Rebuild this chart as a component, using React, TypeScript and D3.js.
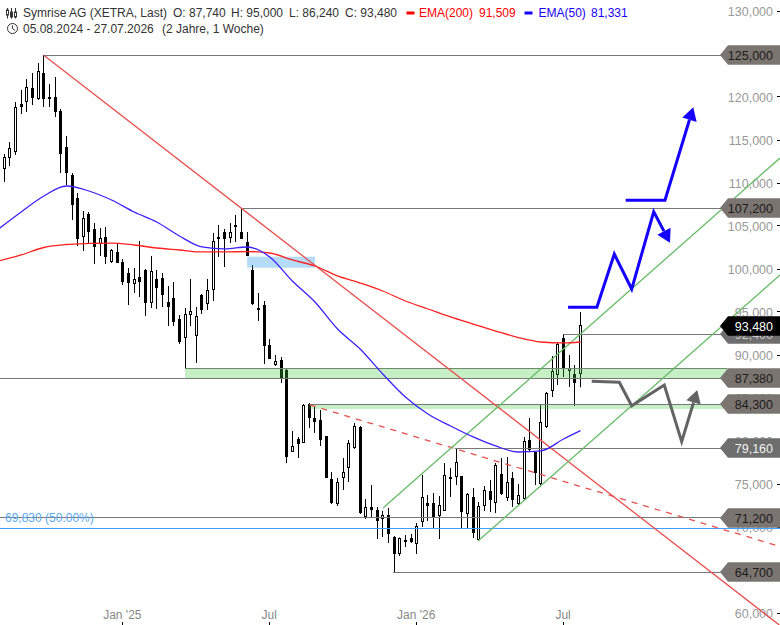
import React from "react";
import * as d3 from "d3";

const W = 780;
const H = 625;

// Weekly candles, 05.08.2024 - 27.07.2026 (thousands of EUR)
const opens = [111.28,111.63,112.91,113.60,119.19,119.42,121.05,119.77,122.79,120,120,118.37,114.19,110.93,108.26,103.72,106.40,104.65,102.91,103.72,100.81,101.98,100.81,99.53,98.26,99.07,99.88,96.05,98.84,98.95,96.16,96.63,94.19,91.98,94.65,92.21,96.98,95.93,97.56,103.72,104.30,103.60,105.12,104.30,103.14,99.88,95.47,95.81,91.16,88.84,89.42,88.26,78.72,80.23,79.77,84.30,82.67,82.44,80.58,75.58,72.67,75.70,76.86,79.19,81.63,71.16,72.33,71.98,70.93,71.40,68.84,66.86,68.49,68.72,68.02,70.58,72.79,72.79,71.28,71.86,75.81,75.81,75.93,71.51,73.49,68.49,72.44,74.19,72.79,76.16,73.37,75.70,72.67,73.26,80.12,78.72,75,81.63,85.81,87.67,91.98,88.14,87.79,87.74];
const highs = [111.74,113.37,114.77,119.42,120.81,122.09,122.79,123.95,124.88,121.51,122.33,118.60,115.47,111.16,108.84,106.74,106.63,105.35,104.77,104.88,102.33,102.91,101.16,100.12,100.12,103.26,100,101.51,99.88,99.53,98.02,98.49,94.65,95.47,98.84,95.58,97.09,98.84,104.19,105.12,104.65,105.35,106.28,107.09,104.30,100.47,97.21,96.28,91.86,90,89.77,88.37,81.16,80.47,84.30,84.42,83.95,83.60,80.58,76.40,75.70,78.02,80.12,82.09,81.74,73.26,74.88,72.33,71.86,72.21,68.95,68.78,69.07,69.19,70.47,76.05,73.72,73.95,73.60,77.44,76.86,79.19,75.93,73.95,74.53,72.91,74.77,75.47,77.44,78.02,78.14,76.40,75,80.47,82.67,78.72,84.19,85.70,89.88,91.40,92.44,90,88.84,95];
const lows = [110.12,110.12,111.98,113.26,118.02,118.26,119.07,119.65,118.84,118.84,117.67,111.16,109.77,105.70,102.67,102.09,103.02,100.58,101.51,100.58,100.70,100.70,98.14,95.81,97.21,96.74,94.53,95.47,95.35,95.58,93.37,93.37,91.28,88.49,93.37,89.07,94.77,95.23,96.28,101.40,100.23,103.02,103.14,103.49,101.51,95.81,93.95,88.95,89.53,88.72,86.74,77.44,78.72,78.02,79.77,81.51,80.93,79.42,75.70,72.67,72.44,74.30,75.23,79.07,71.51,70.93,71.16,68.60,68.84,68.14,64.77,66.63,67.67,68.14,66.86,70,70.70,69.88,68.60,71.86,73.49,74.88,69.88,69.88,68.72,68.37,71.86,71.74,71.63,73.72,73.02,72.33,72.56,73.14,78.84,74.88,74.88,81.51,85.12,86.51,87.44,86.28,84.07,86.24];
const closes = [110.35,113.02,114.07,118.84,118.84,121.16,119.88,123.02,119.77,119.77,118.26,113.37,111.16,107.44,103.49,105.93,104.30,102.56,103.60,101.40,102.21,100.70,98.49,98.37,98.84,98.49,96.05,99.77,97.79,96.98,95.58,93.84,91.51,94.77,95.12,94.53,95.23,97.56,103.26,103.49,103.49,104.30,104.88,103.49,101.51,95.93,95.23,91.05,89.53,89.30,87.33,78.14,79.42,79.65,84.19,82.67,82.21,80.12,75.70,72.79,75.23,76.40,79.77,81.74,71.63,72.33,71.98,70.70,71.40,69.19,66.86,68.72,68.26,68.26,70.12,73.49,72.44,71.05,72.56,76.05,75.58,77.56,71.74,73.84,69.30,72.44,74.30,73.14,77.21,73.84,75.23,73.14,73.72,80,78.95,76.28,82.21,85.58,88.14,91.28,88.49,88.49,86.74,93.48];

// Moving averages, read every fourth week plus the last week
const emaWeeks = [0,4,8,12,16,20,24,28,32,36,40,44,48,52,56,60,64,68,72,76,80,84,88,92,96,100,103];
const ema50 = [104.65,106.63,108.49,109.65,109.07,108.02,106.63,105.47,103.84,102.56,102.33,102.56,101.40,98.60,96.16,93.02,90.70,87.79,85.12,83.14,81.74,80.47,79.42,78.72,78.84,80.23,81.2];
const ema200 = [100.93,101.63,102.50,102.85,102.97,103.02,102.79,102.44,102.21,101.98,101.98,102.03,101.86,101.05,100.35,99.19,98.37,97.44,96.28,95.35,94.42,93.60,92.79,92.03,91.51,91.40,91.51];

const yTicks = [130,125,120,115,110,105,100,95,90,85,80,75,70,65,60];
const xTickWeeks = [22,48,74,100];
const xTickLabels = ["Jan '25","Jul","Jan '26","Jul"];

// Horizontal levels
const levelPrices = [124.85,107.05,92.4,87.27,84.27,79.13,71.1,64.71];
const levelTexts = ["125,000","107,200","92,400","87,380","84,300","79,160","71,200","64,700"];
const levelStarts = [8,43,100,0,55,80.8,0,69.8];
const levelFills = ["#7b7571","#7b7571","#6e6e6e","#7b7571","#7b7571","#6e6e6e","#7b7571","#7b7571"];
const levelInk = ["#1c1c1c","#1c1c1c","#cccccc","#1c1c1c","#1c1c1c","#f0f0f0","#1c1c1c","#1c1c1c"];

const lastTagPrice = 93.33;
const lastTagText = "93,480";
const fibPrice = 69.83;
const fibText = "69,830 (50.00%)";

// Trend lines as [week, price]
const trendDown: [number, number][] = [[8,124.85],[138.2,58.6]];
const channelUpper: [number, number][] = [[68.05,72.21],[138.3,112.9]];
const channelLower: [number, number][] = [[84.86,68.37],[138.3,99.3]];
const dashedDown: [number, number][] = [[55.1,84.19],[138.3,67.73]];

// Zones as weekStart, weekEnd, priceTop, priceBottom
const greenZoneA = [33,129,88.45,87.27];
const greenZoneB = [55,129,84.27,83.73];
const blueZone = [44,56,101.43,100.15];

// Drawn scenario arrows as [week, price]
const blueArrowLow: [number, number][] = [[100.8,95.55],[105.9,95.55],[108.98,101.74],[112.06,97.67],[115.96,106.66],[118.84,103.06]];
const blueArrowHigh: [number, number][] = [[111,107.99],[117.95,107.99],[122.96,118.8]];
const grayArrow: [number, number][] = [[104.98,86.94],[109.87,86.83],[112.06,84.1],[117.83,86.51],[120.91,79.92],[123.67,85.93]];

const x = d3.scaleLinear().domain([0, 103]).range([-1.45, 580.5]);
const y = d3.scaleLinear().domain([70, 130]).range([527, 11]);
const fmt = (v: number) => `${v},000`;
const crisp = (v: number) => Math.round(v - 0.5) + 0.5;
const pathOf = d3.line<[number, number]>().x(d => x(d[0])).y(d => y(d[1]));

function Arrow({ pts, color }: { pts: [number, number][]; color: string }) {
  const px = pts.map(p => [x(p[0]), y(p[1])]);
  const tip = px[px.length - 1];
  const prev = px[px.length - 2];
  const a = Math.atan2(tip[1] - prev[1], tip[0] - prev[0]);
  const L = 13, Hw = 7.5;
  const bx = tip[0] - L * Math.cos(a), by = tip[1] - L * Math.sin(a);
  const nx = -Math.sin(a) * Hw, ny = Math.cos(a) * Hw;
  const stem = [...px.slice(0, -1), [bx, by]] as [number, number][];
  return (
    <g>
      <path d={d3.line()(stem) || ""} fill="none" stroke={color} strokeWidth={3} strokeLinejoin="miter" />
      <path d={`M${tip[0]},${tip[1]}L${bx + nx},${by + ny}L${bx - nx},${by - ny}Z`} fill={color} />
    </g>
  );
}

function Zone({ z, fill, line }: { z: number[]; fill: string; line?: string }) {
  const x0 = x(z[0]), x1 = x(z[1]), y0 = y(z[2]), y1 = y(z[3]);
  return (
    <g>
      <rect x={x0} y={y0} width={x1 - x0} height={y1 - y0} fill={fill} />
      {line && <line x1={x0} x2={x1} y1={crisp(y0)} y2={crisp(y0)} stroke={line} />}
    </g>
  );
}

function Tag({ cy, text, fill, ink }: { cy: number; text: string; fill: string; ink: string }) {
  const c = Math.round(cy);
  const h = 9.8;
  return (
    <g>
      <path d={`M720,${c}L728,${c - h}L780,${c - h}L780,${c + h}L728,${c + h}Z`} fill={fill} />
      <text x={773} y={c + 4.5} textAnchor="end" fontSize={12.5} fill={ink}>{text}</text>
    </g>
  );
}

export default function App() {
  const emaPath = (vals: number[]) =>
    d3.line<number>().x((_, i) => x(emaWeeks[i])).y(d => y(d)).curve(d3.curveMonotoneX)(vals) || "";
  const font = "'Liberation Sans', Arial, sans-serif";
  const hdr = "#333333";
  return (
    <svg width={W} height={H} viewBox={`0 0 ${W} ${H}`} fontFamily={font}
      style={{ position: "absolute", left: 0, top: 0, display: "block", background: "#fff" }}>
      {/* axes */}
      {yTicks.map(t => (
        <g key={t}>
          <text x={773} y={y(t) + 4.5} textAnchor="end" fontSize={12.5} fill="#999">{fmt(t)}</text>
          <line x1={777} x2={780} y1={crisp(y(t))} y2={crisp(y(t))} stroke="#000" />
        </g>
      ))}
      {xTickWeeks.map((w, i) => (
        <g key={w}>
          <text x={x(w) - 0.5} y={619} textAnchor="middle" fontSize={12} fill="#888">{xTickLabels[i]}</text>
          <line x1={crisp(x(w))} x2={crisp(x(w))} y1={622} y2={625} stroke="#000" />
        </g>
      ))}

      {/* candles */}
      {opens.map((o, i) => {
        const c = closes[i];
        const x0 = Math.floor(x(i)) - 1;
        const top = Math.round(y(Math.max(o, c)));
        const bot = Math.round(y(Math.min(o, c)));
        const up = c >= o;
        return (
          <g key={i}>
            <line x1={x0 + 1.5} x2={x0 + 1.5} y1={y(highs[i])} y2={y(lows[i])} stroke="#000" />
            {up ? (
              <rect x={x0 + 0.5} y={top + 0.5} width={2} height={Math.max(1, bot - top - 1)} fill="#fff" stroke="#000" />
            ) : (
              <rect x={x0} y={top} width={3} height={Math.max(2, bot - top)} fill="#000" />
            )}
          </g>
        );
      })}

      {/* zones */}
      <Zone z={greenZoneA} fill="rgba(65,202,65,0.3)" line="#6d8a6d" />
      <Zone z={greenZoneB} fill="rgba(65,202,65,0.3)" />
      <Zone z={blueZone} fill="rgba(43,155,232,0.35)" />

      {/* levels */}
      {levelPrices.map((p, i) => (
        <line key={p} x1={x(levelStarts[i])} x2={722} y1={crisp(y(p))} y2={crisp(y(p))} stroke="#777" />
      ))}
      <line x1={0} x2={W} y1={crisp(y(fibPrice))} y2={crisp(y(fibPrice))} stroke="#3fa0ff" />
      <text x={5} y={522} fontSize={12} fill="#5aaaf5">{fibText}</text>

      {/* trend lines */}
      <path d={pathOf(trendDown) || ""} stroke="#e8504f" strokeWidth={1.3} fill="none" />
      <path d={pathOf(dashedDown) || ""} stroke="#e8504f" strokeWidth={1.3} strokeDasharray="6 6" fill="none" />
      <path d={pathOf(channelUpper) || ""} stroke="#66bb66" strokeWidth={1.3} fill="none" />
      <path d={pathOf(channelLower) || ""} stroke="#66bb66" strokeWidth={1.3} fill="none" />

      {/* moving averages */}
      <path d={emaPath(ema200)} stroke="#ff2020" strokeWidth={1.3} fill="none" />
      <path d={emaPath(ema50)} stroke="#3a22ff" strokeWidth={1.3} fill="none" />

      {/* scenario arrows */}
      <Arrow pts={blueArrowLow} color="#1500ff" />
      <Arrow pts={blueArrowHigh} color="#1500ff" />
      <Arrow pts={grayArrow} color="#636363" />

      {/* price tags */}
      {levelPrices.map((p, i) => (
        <Tag key={p} cy={y(p)} text={levelTexts[i]} fill={levelFills[i]} ink={levelInk[i]} />
      ))}
      <Tag cy={y(lastTagPrice)} text={lastTagText} fill="#000" ink="#fff" />

      {/* header */}
      <g stroke="#333" fill="none">
        <path d="M7.5,8V18.5M11.5,8V18.5M15.5,8V18.5" />
        <rect x={6.5} y={10} width={2} height={5} fill="#fff" />
        <rect x={10.5} y={12} width={2} height={5} fill="#333" />
        <rect x={14.5} y={12} width={2} height={5} fill="#fff" />
        <circle cx={12.5} cy={28.5} r={5} />
        <path d="M12.5,25.5V28.5L15,30.5" />
      </g>
      <g fontSize={12} fill={hdr}>
        <text x={23} y={17}>Symrise AG (XETRA, Last)</text>
        <text x={173} y={17}>O: 87,740</text>
        <text x={231} y={17}>H: 95,000</text>
        <text x={289} y={17}>L: 86,240</text>
        <text x={345} y={17}>C: 93,480</text>
        <text x={23} y={33}>05.08.2024 - 27.07.2026</text>
        <text x={162} y={33}>(2 Jahre, 1 Woche)</text>
      </g>
      <rect x={406.5} y={11.5} width={8} height={3} fill="#ff0000" />
      <text x={419} y={17} fontSize={12} fill="#ff0000">EMA(200)</text>
      <text x={479} y={17} fontSize={12} fill="#ff0000">91,509</text>
      <rect x={524.5} y={11.5} width={8} height={3} fill="#1500ff" />
      <text x={538.5} y={17} fontSize={12} fill="#1500ff">EMA(50)</text>
      <text x={591} y={17} fontSize={12} fill="#1500ff">81,331</text>
    </svg>
  );
}
